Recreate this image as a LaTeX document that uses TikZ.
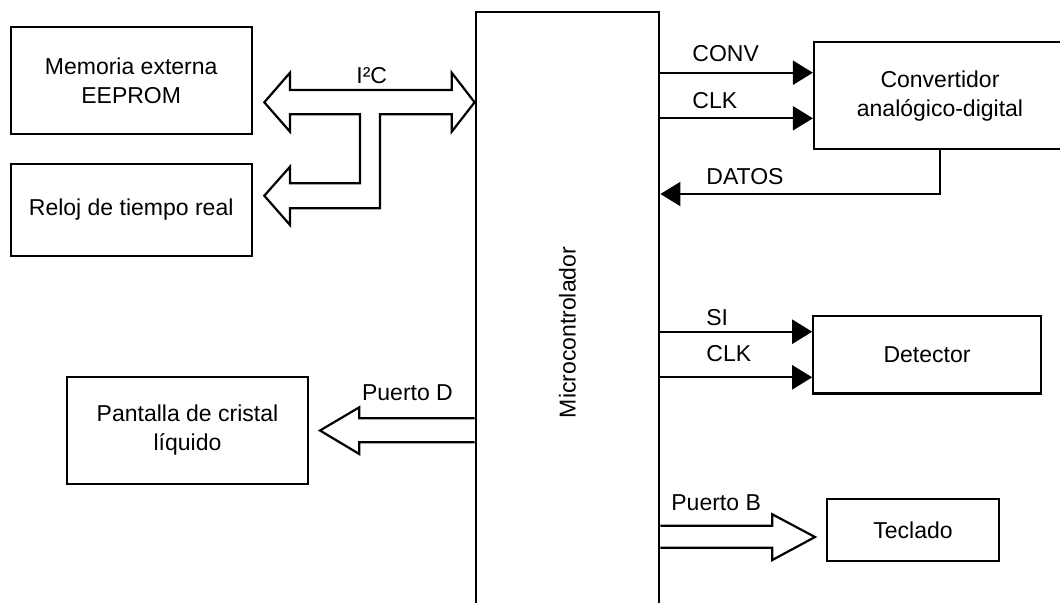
\documentclass[tikz,border=0pt]{standalone}
\usepackage{fontspec}
\setmainfont{Liberation Sans}
\usepackage{graphicx}
\usetikzlibrary{arrows.meta,calc}

\begin{document}
\begin{tikzpicture}[x=0.5pt, y=-0.5pt,
    bloque/.style={rectangle, draw, line width=1.1pt, align=center, inner sep=0pt,
                 font=\fontsize{11.5}{14.6}\selectfont},
    senal/.style={-{Triangle[length=10pt,width=12pt]}, line width=1.1pt},
    bus/.style={line width=1.1pt, line join=miter},
    etiq/.style={anchor=base west, inner sep=0pt, font=\fontsize{11.5}{14.6}\selectfont}
]
    \useasboundingbox (0,0) rectangle (1060,602);

    % bloques
    \node[bloque, minimum width=120.5pt, minimum height=53.8pt] (mem) at (131.2,80.5) {Memoria externa\\EEPROM};
    \node[bloque, minimum width=120.5pt, minimum height=46pt] (rtc) at (131.2,210) {Reloj de tiempo real};
    \node[bloque, minimum width=120.8pt, minimum height=53.7pt] (lcd) at (187.5,430.3) {Pantalla de cristal\\líquido};
    \node[bloque, minimum width=91.8pt, minimum height=320.8pt] (mcu) at (567.5,332.5) {\rotatebox{90}{Microcontrolador}};
    \node[bloque, minimum width=126pt, minimum height=53.5pt] (adc) at (940,95.8) {Convertidor\\analógico-digital};
    \node[bloque, minimum width=113.7pt, minimum height=38.7pt] (det) at (927,354.7) {Detector};
    \node[bloque, minimum width=85.7pt, minimum height=30.9pt] (kbd) at (913,529.8) {Teclado};

    % bus I2C
    \coordinate (busmem) at (264.3,102.3);
    \coordinate (busrtc) at (264.3,195.7);
    \draw[bus] (busmem) -- (290,72.7) -- (290,90) -- (451.7,90) -- (451.7,72.7)
        -- (mcu.west |- busmem) -- (451.7,131.7) -- (451.7,114.3) -- (380,114.3)
        -- (380,208.3) -- (290,208.3) -- (290,225) -- (busrtc) -- (290,166.7)
        -- (290,183.3) -- (360,183.3) -- (360,114.3) -- (290,114.3) -- (290,131.7) -- cycle;
    \node[etiq] (li2c) at (356,83.3) {I²C};

    % puertos
    \draw[bus] (mcu.west |- 0,418.3) -- (359.3,418.3) -- (359.3,407.3) -- (320,430.5)
        -- (359.3,454) -- (359.3,442.3) -- (mcu.west |- 0,442.3);
    \node[etiq] (lpd) at (361.7,400) {Puerto D};
    \draw[bus] (mcu.east |- 0,525.7) -- (772.3,525.7) -- (772.3,514.3) -- (815,537)
        -- (772.3,560) -- (772.3,547.7) -- (mcu.east |- 0,547.7);
    \node[etiq] (lpb) at (671,510.5) {Puerto B};

    % senales
    \draw[senal] (mcu.east |- 0,72.7) -- (adc.west |- 0,72.7);
    \draw[senal] (mcu.east |- 0,118.3) -- (adc.west |- 0,118.3);
    \draw[senal] (adc.south) |- (mcu.east |- 0,194);
    \draw[senal] (mcu.east |- 0,331.7) -- (det.west |- 0,331.7);
    \draw[senal] (mcu.east |- 0,377.3) -- (det.west |- 0,377.3);
    \node[etiq] (lconv) at (692,61.7) {CONV};
    \node[etiq] (lclka) at (692,108.3) {CLK};
    \node[etiq] (ldatos) at (706,184) {DATOS};
    \node[etiq] (lsi) at (706,325) {SI};
    \node[etiq] (lclkb) at (706,361.7) {CLK};
\end{tikzpicture}
\end{document}
